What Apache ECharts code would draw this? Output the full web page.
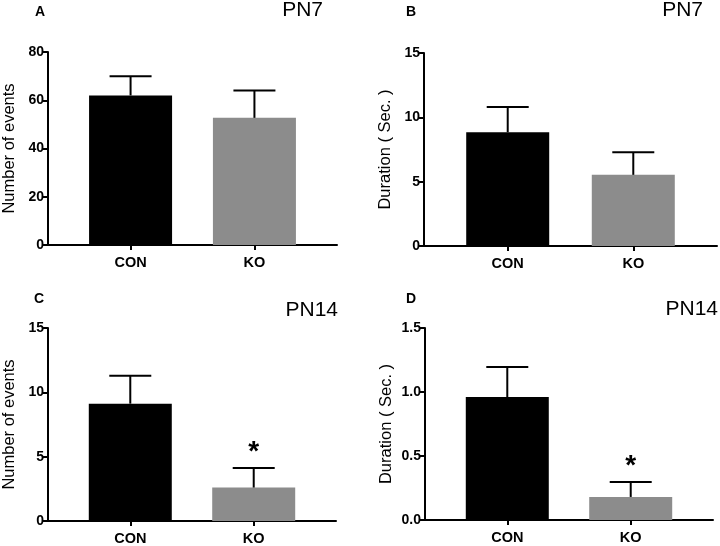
<!DOCTYPE html>
<html>
<head>
<meta charset="utf-8">
<script src="https://cdn.jsdelivr.net/npm/echarts@6/dist/echarts.min.js"></script>
<style>
  html, body { margin: 0; padding: 0; background: #fff; }
  #chart { width: 720px; height: 546px; }
</style>
</head>
<body>
<div id="chart"></div>
<script>
// groupes et positions sur l'axe x
const groups = ["CON", "KO"];
const groupPos = [1, 2.5];
const barColors = ["#000000", "#8c8c8c"];

// A - PN7 nombre d'evenements
const eventsPN7 = [62, 52.7];
const eventsPN7Err = [8, 11.3];
// B - PN7 duree
const durationPN7 = [8.84, 5.53];
const durationPN7Err = [1.97, 1.75];
// C - PN14 nombre d'evenements
const eventsPN14 = [9.12, 2.6];
const eventsPN14Err = [2.17, 1.52];
// D - PN14 duree
const durationPN14 = [0.96, 0.18];
const durationPN14Err = [0.235, 0.117];

const sigPN7 = ["", ""];
const sigPN14 = ["", "*"];

const FONT = "Arial, 'Liberation Sans', sans-serif";

const panels = [
  { letter: "A", title: "PN7", yName: "Number of events", means: eventsPN7, errs: eventsPN7Err, sig: sigPN7,
    max: 80, interval: 20, dec: 0,
    grid: { left: 45, top: 52, width: 292, height: 193 }, letterPos: [35, 5], titlePos: [397, 0] },
  { letter: "B", title: "PN7", yName: "Duration ( Sec. )", means: durationPN7, errs: durationPN7Err, sig: sigPN7,
    max: 15, interval: 5, dec: 0,
    grid: { left: 424, top: 53, width: 293, height: 193 }, letterPos: [406, 5], titlePos: [17, 0] },
  { letter: "C", title: "PN14", yName: "Number of events", means: eventsPN14, errs: eventsPN14Err, sig: sigPN14,
    max: 15, interval: 5, dec: 0,
    grid: { left: 45, top: 328, width: 291, height: 194 }, letterPos: [34, 292], titlePos: [382, 300] },
  { letter: "D", title: "PN14", yName: "Duration ( Sec. )", means: durationPN14, errs: durationPN14Err, sig: sigPN14,
    max: 1.5, interval: 0.5, dec: 1,
    grid: { left: 425, top: 328, width: 288, height: 192 }, letterPos: [406, 292], titlePos: [2, 299] },
];

const chart = echarts.init(document.getElementById("chart"));

const titles = [];
const grids = [];
const xAxes = [];
const yAxes = [];
const series = [];

panels.forEach((p, i) => {
  titles.push({
    text: p.letter, left: p.letterPos[0], top: p.letterPos[1], padding: 0,
    textStyle: { fontFamily: FONT, fontSize: 14, fontWeight: "bold", color: "#000" },
  });
  titles.push({
    text: p.title, right: p.titlePos[0], top: p.titlePos[1], padding: 0,
    textStyle: { fontFamily: FONT, fontSize: 21, fontWeight: "normal", color: "#000" },
  });
  grids.push(p.grid);
  xAxes.push({
    gridIndex: i, type: "value", min: 0, max: 3.5,
    splitLine: { show: false },
    axisLine: { show: true, lineStyle: { color: "#000", width: 2 } },
    axisTick: { show: true, customValues: groupPos, length: 5, lineStyle: { color: "#000", width: 2 } },
    axisLabel: {
      customValues: groupPos, margin: 10,
      fontFamily: FONT, fontSize: 14.5, fontWeight: "bold", color: "#000",
      formatter: (v) => groups[groupPos.indexOf(v)] || "",
    },
  });
  yAxes.push({
    gridIndex: i, type: "value", min: 0, max: p.max, interval: p.interval,
    name: p.yName, nameLocation: "middle", nameGap: 30,
    nameTextStyle: { fontFamily: FONT, fontSize: 16.5, color: "#000" },
    splitLine: { show: false },
    axisLine: { show: true, lineStyle: { color: "#000", width: 2 } },
    axisTick: { show: true, length: 5, lineStyle: { color: "#000", width: 2 } },
    axisLabel: {
      margin: 4, fontFamily: FONT, fontSize: 14, fontWeight: "bold", color: "#000",
      formatter: (v) => v.toFixed(p.dec),
    },
  });
  series.push({
    type: "bar", xAxisIndex: i, yAxisIndex: i, barWidth: 83,
    data: p.means.map((m, k) => ({ value: [groupPos[k], m], itemStyle: { color: barColors[k] } })),
  });
  series.push({
    type: "custom", xAxisIndex: i, yAxisIndex: i, z: 3,
    data: p.means.map((m, k) => [groupPos[k], m, p.errs[k], k]),
    encode: { x: 0, y: 1 },
    renderItem: (params, api) => {
      const x = api.value(0);
      const m = api.value(1);
      const e = api.value(2);
      const k = api.value(3);
      const lo = api.coord([x, m]);
      const hi = api.coord([x, m + e]);
      const children = [
        { type: "line", shape: { x1: lo[0], y1: lo[1], x2: hi[0], y2: hi[1] }, style: { stroke: "#000", lineWidth: 2 } },
        { type: "line", shape: { x1: hi[0] - 21, y1: hi[1], x2: hi[0] + 21, y2: hi[1] }, style: { stroke: "#000", lineWidth: 2 } },
      ];
      if (p.sig[k]) {
        children.push({
          type: "text",
          style: {
            text: p.sig[k], x: hi[0], y: hi[1] - 2,
            font: "bold 28px " + FONT, fill: "#000",
            textAlign: "center", textVerticalAlign: "bottom",
          },
        });
      }
      return { type: "group", children: children };
    },
  });
});

chart.setOption({
  animation: false,
  backgroundColor: "#fff",
  title: titles,
  grid: grids,
  xAxis: xAxes,
  yAxis: yAxes,
  series: series,
});
</script>
</body>
</html>
